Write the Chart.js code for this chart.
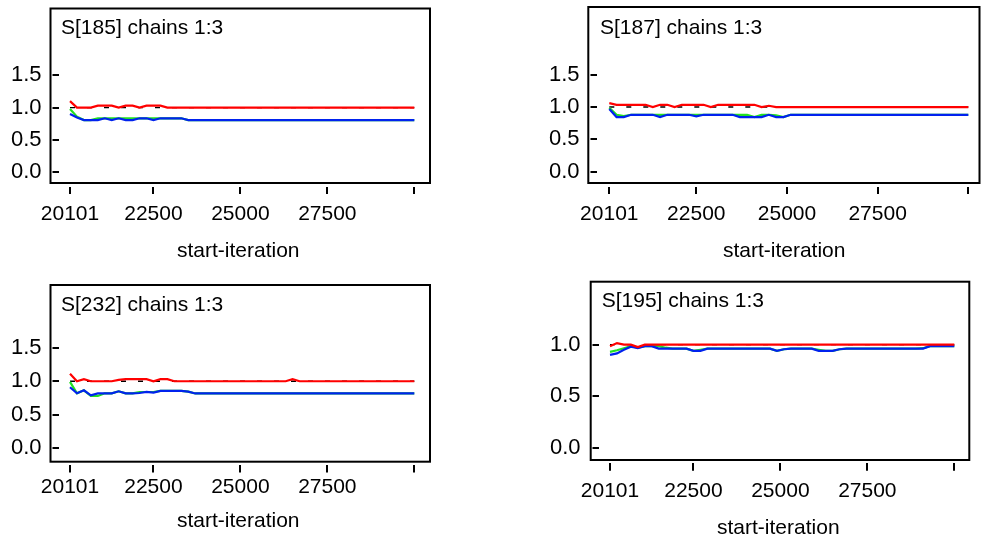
<!DOCTYPE html>
<html>
<head>
<meta charset="utf-8">
<script src="https://cdn.jsdelivr.net/npm/chart.js@4/dist/chart.umd.min.js"></script>
<style>
  html, body { margin: 0; padding: 0; background: #fff; }
  body { width: 981px; height: 542px; position: relative; overflow: hidden; }
  canvas { position: absolute; }
</style>
</head>
<body>
<canvas id="c1" width="490" height="270" style="left:0px;top:0px"></canvas>
<canvas id="c2" width="491" height="270" style="left:490px;top:0px"></canvas>
<canvas id="c3" width="490" height="272" style="left:0px;top:270px"></canvas>
<canvas id="c4" width="491" height="272" style="left:490px;top:270px"></canvas>
<script>
// ---- data ----
const iterations = [
  20101,20301,20501,20701,20901,21101,21301,21501,21701,21901,
  22101,22301,22501,22701,22901,23101,23301,23501,23701,23901,
  24101,24301,24501,24701,24901,25101,25301,25501,25701,25901,
  26101,26301,26501,26701,26901,27101,27301,27501,27701,27901,
  28101,28301,28501,28701,28901,29101,29301,29501,29701,29901,
  30000
];
const xTickValues = [20101, 22500, 25000, 27500, 30000];
const xTickLabels = ['20101', '22500', '25000', '27500', ''];
const yTicksA = [0, 0.5, 1.0, 1.5];
const yTicksB = [0, 0.5, 1.0];
const refLevel = 1.0;
const xTitle = 'start-iteration';

const titles = ['S[185] chains 1:3', 'S[187] chains 1:3', 'S[232] chains 1:3', 'S[195] chains 1:3'];

// S[185]
const red185 = [1.10,1.00,1.00,1.00,1.03,1.03,1.03,1.00,1.03,1.03,1.00,1.03,1.03,1.03,1.00,1.00,1.00,1.00,1.00,1.00,
  1.00,1.00,1.00,1.00,1.00,1.00,1.00,1.00,1.00,1.00,1.00,1.00,1.00,1.00,1.00,1.00,1.00,1.00,1.00,1.00,
  1.00,1.00,1.00,1.00,1.00,1.00,1.00,1.00,1.00,1.00,1.00];
const blue185 = [0.90,0.845,0.806,0.806,0.806,0.834,0.806,0.834,0.806,0.806,0.834,0.834,0.806,0.834,0.834,0.834,0.834,0.806,0.806,0.806,
  0.806,0.806,0.806,0.806,0.806,0.806,0.806,0.806,0.806,0.806,0.806,0.806,0.806,0.806,0.806,0.806,0.806,0.806,0.806,0.806,
  0.806,0.806,0.806,0.806,0.806,0.806,0.806,0.806,0.806,0.806,0.806];
const green185 = [0.98,0.86,0.806,0.806,0.834,0.834,0.834,0.834,0.834,0.834,0.834,0.834,0.834,0.834,0.834,0.834,0.834,0.806,0.806,0.806,
  0.806,0.806,0.806,0.806,0.806,0.806,0.806,0.806,0.806,0.806,0.806,0.806,0.806,0.806,0.806,0.806,0.806,0.806,0.806,0.806,
  0.806,0.806,0.806,0.806,0.806,0.806,0.806,0.806,0.806,0.806,0.806];

// S[187]
const red187 = [1.06,1.035,1.035,1.035,1.035,1.035,1.00,1.035,1.035,1.00,1.035,1.035,1.035,1.035,1.00,1.035,1.035,1.035,1.035,1.035,
  1.035,1.00,1.02,1.00,1.00,1.00,1.00,1.00,1.00,1.00,1.00,1.00,1.00,1.00,1.00,1.00,1.00,1.00,1.00,1.00,
  1.00,1.00,1.00,1.00,1.00,1.00,1.00,1.00,1.00,1.00,1.00];
const blue187 = [0.97,0.845,0.845,0.88,0.88,0.88,0.88,0.845,0.88,0.88,0.88,0.88,0.855,0.88,0.88,0.88,0.88,0.88,0.845,0.845,
  0.845,0.845,0.88,0.845,0.845,0.88,0.88,0.88,0.88,0.88,0.88,0.88,0.88,0.88,0.88,0.88,0.88,0.88,0.88,0.88,
  0.88,0.88,0.88,0.88,0.88,0.88,0.88,0.88,0.88,0.88,0.88];
const green187 = [0.99,0.88,0.86,0.88,0.88,0.88,0.88,0.88,0.88,0.88,0.88,0.88,0.88,0.88,0.88,0.88,0.88,0.88,0.88,0.88,
  0.845,0.88,0.88,0.87,0.845,0.88,0.88,0.88,0.88,0.88,0.88,0.88,0.88,0.88,0.88,0.88,0.88,0.88,0.88,0.88,
  0.88,0.88,0.88,0.88,0.88,0.88,0.88,0.88,0.88,0.88,0.88];

// S[232]
const red232 = [1.11,1.00,1.03,1.00,1.00,1.00,1.00,1.02,1.03,1.03,1.03,1.03,1.00,1.03,1.03,1.00,1.00,1.00,1.00,1.00,
  1.00,1.00,1.00,1.00,1.00,1.00,1.00,1.00,1.00,1.00,1.00,1.00,1.03,1.00,1.00,1.00,1.00,1.00,1.00,1.00,
  1.00,1.00,1.00,1.00,1.00,1.00,1.00,1.00,1.00,1.00,1.00];
const blue232 = [0.91,0.82,0.865,0.79,0.82,0.82,0.82,0.85,0.82,0.82,0.825,0.84,0.83,0.857,0.857,0.857,0.857,0.845,0.818,0.818,
  0.818,0.818,0.818,0.818,0.818,0.818,0.818,0.818,0.818,0.818,0.818,0.818,0.818,0.818,0.818,0.818,0.818,0.818,0.818,0.818,
  0.818,0.818,0.818,0.818,0.818,0.818,0.818,0.818,0.818,0.818,0.818];
const green232 = [0.99,0.82,0.865,0.78,0.78,0.82,0.82,0.85,0.82,0.82,0.84,0.84,0.84,0.857,0.857,0.857,0.857,0.845,0.818,0.818,
  0.818,0.818,0.818,0.818,0.818,0.818,0.818,0.818,0.818,0.818,0.818,0.818,0.818,0.818,0.818,0.818,0.818,0.818,0.818,0.818,
  0.818,0.818,0.818,0.818,0.818,0.818,0.818,0.818,0.818,0.818,0.818];

// S[195]
const red195 = [0.985,1.015,1.00,1.00,0.976,1.00,1.00,1.00,1.00,1.00,1.00,1.00,1.00,1.00,1.00,1.00,1.00,1.00,1.00,1.00,
  1.00,1.00,1.00,1.00,1.00,1.00,1.00,1.00,1.00,1.00,1.00,1.00,1.00,1.00,1.00,1.00,1.00,1.00,1.00,1.00,
  1.00,1.00,1.00,1.00,1.00,1.00,1.00,1.00,1.00,1.00,1.00];
const blue195 = [0.90,0.915,0.95,0.98,0.965,0.985,0.985,0.961,0.961,0.961,0.961,0.961,0.94,0.94,0.961,0.961,0.961,0.961,0.961,0.961,
  0.961,0.961,0.961,0.961,0.94,0.955,0.961,0.961,0.961,0.961,0.94,0.94,0.94,0.955,0.961,0.961,0.961,0.961,0.961,0.961,
  0.961,0.961,0.961,0.961,0.961,0.961,0.985,0.985,0.985,0.985,0.985];
const green195 = [0.93,0.945,0.965,0.985,0.97,0.985,0.985,0.985,0.97,0.961,0.961,0.961,0.94,0.95,0.961,0.961,0.961,0.961,0.961,0.961,
  0.961,0.961,0.961,0.961,0.94,0.955,0.961,0.961,0.961,0.961,0.95,0.94,0.94,0.955,0.961,0.961,0.961,0.961,0.961,0.961,
  0.961,0.961,0.961,0.961,0.961,0.965,0.985,0.985,0.985,0.985,0.985];

// ---- styles ----
const FONT = '"Liberation Sans", Arial, sans-serif';
const FONT_SIZE = 21;
const COL_RED = '#ff0000';
const COL_GREEN = '#22e022';
const COL_BLUE = '#0022ee';
const COL_REF = '#000000';

// ---- layout of each panel (canvas-local pixels) ----
const panels = [
  { id:'c1', title:titles[0], red:red185, green:green185, blue:blue185, yTicks:yTicksA,
    area:{L:58.5, R:418, T:10, B:186.5}, xMap:[70,20101,414.3,30000], yMap:[170.7,0,100.7,1],
    frame:{l:50.5, r:430, t:8.5, b:183}, titlePos:[61,33.5], xLabPad:8, yLabPad:11, xTitlePad:6 },
  { id:'c2', title:titles[1], red:red187, green:green187, blue:blue187, yTicks:yTicksA,
    area:{L:106.5, R:481.9, T:9, B:186.5}, xMap:[119.3,20101,478.3,30000], yMap:[170.2,0,99.6,1],
    frame:{l:98.3, r:489.5, t:7, b:183}, titlePos:[110,33.5], xLabPad:8, yLabPad:11, xTitlePad:6 },
  { id:'c3', title:titles[2], red:red232, green:green232, blue:blue232, yTicks:yTicksA,
    area:{L:58.5, R:418, T:17, B:195}, xMap:[70,20101,414.3,30000], yMap:[177.7,0,107.7,1],
    frame:{l:50.5, r:430, t:15, b:191.7}, titlePos:[61,40.5], xLabPad:2, yLabPad:11, xTitlePad:8 },
  { id:'c4', title:titles[3], red:red195, green:green195, blue:blue195, yTicks:yTicksB,
    area:{L:108.5, R:468.1, T:14, B:193.3}, xMap:[120,20101,464.3,30000], yMap:[176.7,0,66.7,1],
    frame:{l:100.7, r:479.3, t:11.7, b:190}, titlePos:[111.7,37], xLabPad:8, yLabPad:12, xTitlePad:1 }
];

function rangeFor(pA, vA, pB, vB, p0, p1) {
  const s = (pB - pA) / (vB - vA);
  return [vA + (p0 - pA) / s, vA + (p1 - pA) / s];
}

const framePlugin = {
  id: 'panelFrame',
  afterDraw(chart, args, opts) {
    const ctx = chart.ctx;
    const f = opts.frame;
    ctx.save();
    ctx.strokeStyle = '#000';
    ctx.lineWidth = 2;
    ctx.strokeRect(f.l, f.t, f.r - f.l, f.b - f.t);
    ctx.fillStyle = '#000';
    ctx.font = FONT_SIZE + 'px ' + FONT;
    ctx.textBaseline = 'alphabetic';
    ctx.textAlign = 'left';
    ctx.fillText(opts.title, opts.titlePos[0], opts.titlePos[1]);
    ctx.restore();
  }
};

Chart.defaults.font.family = FONT;
Chart.defaults.font.size = FONT_SIZE;
Chart.defaults.color = '#000';

panels.forEach(p => {
  const canvas = document.getElementById(p.id);
  const W = canvas.width, H = canvas.height;
  const [xmin, xmax] = rangeFor(p.xMap[0], p.xMap[1], p.xMap[2], p.xMap[3], p.area.L, p.area.R);
  const [ymin, ymax] = rangeFor(p.yMap[0], p.yMap[1], p.yMap[2], p.yMap[3], p.area.B, p.area.T);
  const pts = arr => iterations.map((x, i) => ({ x: x, y: arr[i] }));
  const refPts = [{ x: iterations[0], y: refLevel }, { x: iterations[iterations.length - 1], y: refLevel }];

  new Chart(canvas, {
    type: 'line',
    data: {
      datasets: [
        { label: 'R', data: pts(p.red), borderColor: COL_RED, borderWidth: 2.2, pointRadius: 0, tension: 0, fill: false },
        { label: 'within', data: pts(p.blue), borderColor: COL_BLUE, borderWidth: 2.2, pointRadius: 0, tension: 0, fill: false },
        { label: 'pooled', data: pts(p.green), borderColor: COL_GREEN, borderWidth: 2.2, pointRadius: 0, tension: 0, fill: false },
        { label: 'ref', data: refPts, borderColor: COL_REF, borderWidth: 1.4, borderDash: [5, 12], pointRadius: 0, fill: false }
      ]
    },
    options: {
      responsive: false,
      animation: false,
      devicePixelRatio: 1,
      events: [],
      layout: { padding: { left: 0, top: p.area.T, right: W - p.area.R, bottom: 0 } },
      plugins: {
        legend: { display: false },
        tooltip: { enabled: false },
        panelFrame: { frame: p.frame, title: p.title, titlePos: p.titlePos }
      },
      scales: {
        x: {
          type: 'linear', min: xmin, max: xmax,
          afterBuildTicks: s => { s.ticks = xTickValues.map(v => ({ value: v })); },
          afterFit: s => { s.height = H - p.area.B; },
          ticks: {
            autoSkip: false, maxRotation: 0, minRotation: 0, padding: p.xLabPad,
            color: '#000', font: { size: FONT_SIZE, family: FONT },
            callback: (v) => { const i = xTickValues.indexOf(v); return i >= 0 ? xTickLabels[i] : ''; }
          },
          grid: { display: true, drawOnChartArea: false, drawTicks: true, tickLength: 7.5, color: '#000', lineWidth: 2 },
          border: { display: false },
          title: { display: true, text: xTitle, color: '#000', font: { size: FONT_SIZE, family: FONT }, padding: { top: 0, bottom: p.xTitlePad } }
        },
        y: {
          type: 'linear', min: ymin, max: ymax,
          afterBuildTicks: s => { s.ticks = p.yTicks.map(v => ({ value: v })); },
          afterFit: s => { s.width = p.area.L; },
          ticks: {
            autoSkip: false, padding: p.yLabPad, color: '#000', font: { size: FONT_SIZE + 1, family: FONT },
            callback: (v) => Number(v).toFixed(1)
          },
          grid: { display: true, drawOnChartArea: false, drawTicks: true, tickLength: 6, color: '#000', lineWidth: 2 },
          border: { display: false }
        }
      }
    },
    plugins: [framePlugin]
  });
});
</script>
</body>
</html>
